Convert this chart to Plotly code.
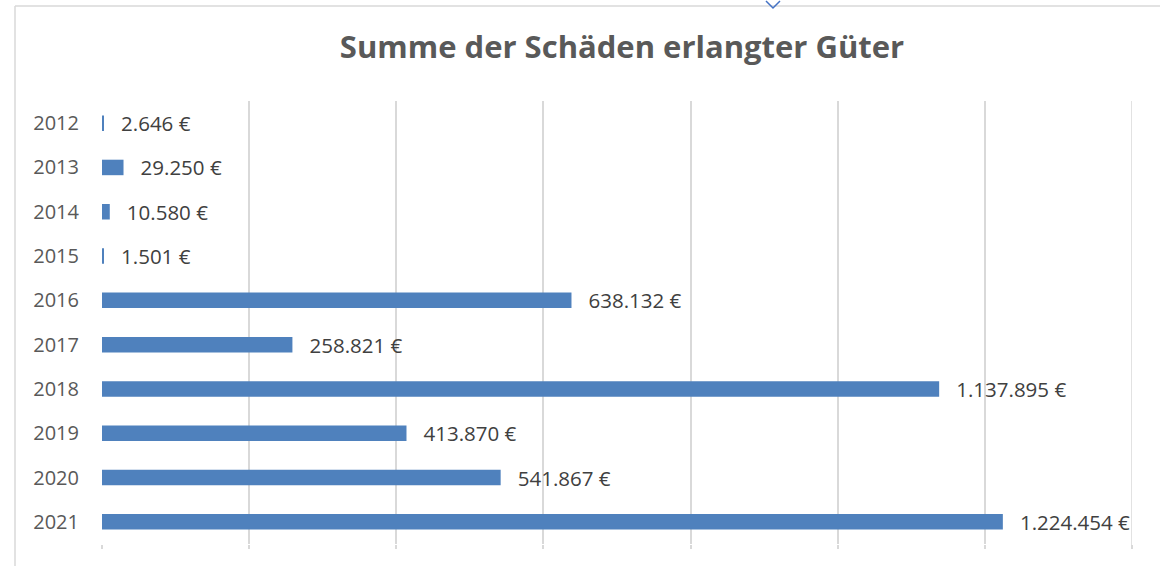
import plotly.graph_objects as go

years = ["2012", "2013", "2014", "2015", "2016", "2017", "2018", "2019", "2020", "2021"]
values = [2646, 29250, 10580, 1501, 638132, 258821, 1137895, 413870, 541867, 1224454]
labels = ["2.646 €", "29.250 €", "10.580 €", "1.501 €", "638.132 €", "258.821 €",
          "1.137.895 €", "413.870 €", "541.867 €", "1.224.454 €"]
title = "Summe der Schäden erlangter Güter"
x_max = 1400000

W, H = 1160, 566
ml, mr, mt, mb = 102, 28, 101, 22
pw, ph = W - ml - mr, H - mt - mb

def px_x(px):
    return (px - ml) / pw

def px_y(py):
    return (H - mb - py) / ph

fig = go.Figure(go.Bar(
    y=years, x=values, orientation="h",
    marker=dict(color="#4f81bd", line=dict(width=0)),
    text=["\u00a0\u00a0\u2009" + t for t in labels],
    textposition="outside", cliponaxis=False, constraintext="none",
    textfont=dict(family="Open Sans", size=20.5, color="#404040"),
    hoverinfo="skip",
))

fig.update_layout(
    width=W, height=H,
    margin=dict(l=ml, r=mr, t=mt, b=mb),
    paper_bgcolor="white", plot_bgcolor="white",
    bargap=0.65, showlegend=False,
    title=dict(text=title, x=622 / W, xanchor="center", y=1 - 47 / H, yanchor="middle",
               font=dict(family="Open Sans", size=31, color="#595959", weight="bold")),
    xaxis=dict(range=[0, x_max], dtick=200000, tick0=0, showticklabels=False,
               showgrid=True, gridcolor="#d9d9d9", gridwidth=1.5, zeroline=False,
               ticks="outside", ticklen=4, tickcolor="#d9d9d9", tickwidth=1.5,
               showline=False, fixedrange=True),
    yaxis=dict(autorange="reversed", showgrid=False, showline=False, zeroline=False,
               tickfont=dict(family="Open Sans", size=20, color="#595959"),
               ticklabelstandoff=22, ticks="", fixedrange=True),
    shapes=[
        dict(type="line", xref="x", yref="paper", x0=x_max, x1=x_max,
             y0=px_y(548), y1=1, line=dict(color="#d9d9d9", width=1.5)),
        dict(type="line", xref="paper", yref="paper", x0=px_x(15), x1=px_x(1160),
             y0=px_y(6), y1=px_y(6), line=dict(color="#d9d9d9", width=1.5)),
        dict(type="line", xref="paper", yref="paper", x0=px_x(15), x1=px_x(15),
             y0=px_y(6), y1=px_y(566), line=dict(color="#d9d9d9", width=1.5)),
        dict(type="path", xref="paper", yref="paper",
             path=f"M {px_x(766)} {px_y(1)} L {px_x(773)} {px_y(8)} L {px_x(780)} {px_y(1)}",
             line=dict(color="#4472c4", width=1.5)),
    ],
)

fig.write_html("out.html", config={"displayModeBar": False},
               post_script="document.body.style.margin='0';")
